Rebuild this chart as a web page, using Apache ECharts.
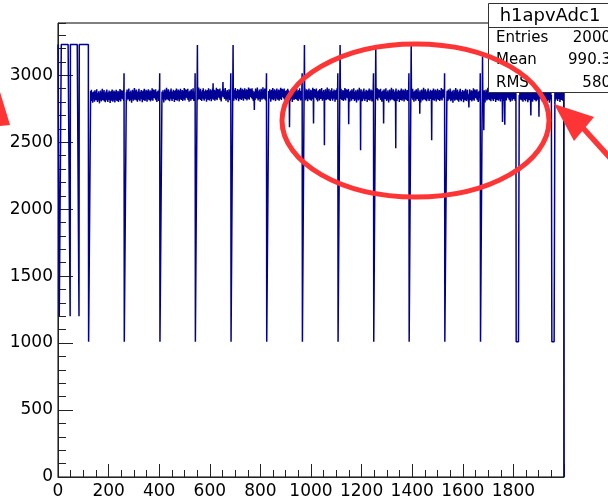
<!DOCTYPE html>
<html>
<head>
  <meta charset="utf-8" />
  <title>h1apvAdc1</title>
  <script src="https://cdn.jsdelivr.net/npm/echarts@6.0.0/dist/echarts.min.js"></script>
  <style>
    body { margin: 0; padding: 0; background: #fff; }
    #main { width: 608px; height: 501px; }
  </style>
</head>
<body>
  <div id="main"></div>
  <script>
    // ---- values ----
    var nBins = 2000;
    var headerTop = 3230;          // plateau before the first tick mark
    var headerLow = 1200;
    var headerGaps = [[5, 12], [48, 48], [83, 83]];   // bins that sit at headerLow
    var tickBins = [120, 261, 402, 542, 683, 824, 965, 1106, 1247, 1387, 1528, 1669, 1810, 1951];
    var tickWidth = [8, 8, 8, 8, 8, 8, 8, 8, 8, 8, 8, 8, 12, 12];
    var tickTop = [0, 3015, 3015, 3015, 3015, 3015, 3015, 3015, 3015, 3015, 3015, 3015, 0, 0];
    var tickLow = 1010;
    var tickSpike = [0, 0, 0, 3225, 3225, 0, 3225, 3225, 3225, 3225, 0, 3140, 0, 0];
    // baseline level after each tick mark
    var levels = [2843, 2848, 2850, 2852, 2855, 2853, 2852, 2850, 2850, 2850, 2848, 2850, 2848, 2850];
    // pedestal noise, ADC counts around the baseline
    var noise = [
      19, -13, 40, -24, 5, 48, -35, 13, -8, 29, -48, 16, 3, -19, 35, -6, 24, -40, 8, 45,
      -16, 0, 32, -29, 14, -10, 53, -22, 6, -43, 26, -3, 18, -32, 38, -14, 10, -53, 22, 2,
      -26, 43, -11, 30, -38, 5, 16, -21, 56, -8, -30, 13, 34, -18, 0, 46, -37, 21, -5, 27,
      -45, 11, -24, 37, 3, -13, 50, -32, 8, 19, -42, 29, -2, 14, -27, 42, -19, 6, 32, -50,
      24, -10, 2, 38, -34, 18, -14, 51, -22, 10, -40, 30, 0, -16, 43, -29, 13, 22, -46, 5,
      35, -11, -26, 48, -6, 16, -35, 27, 3, -21, 40, -5, -43, 19, 11, -30, 34, -13, 54, -24,
      8, -38, 26, -3, 45, -18, 14
    ];
    // single-bin spikes [bin, adc]
    var spikes = [
      [613, 2940], [652, 2950], [776, 2740], [915, 2612], [1010, 2640], [1053, 2477],
      [1149, 2634], [1196, 2440], [1287, 2640], [1335, 2455], [1430, 2712], [1477, 2515],
      [1624, 2760], [1683, 2590], [1757, 2650], [1766, 2630], [1869, 2700], [1901, 2690]
    ];
    var xTickLabels = ['0', '200', '400', '600', '800', '1000', '1200', '1400', '1600', '1800'];
    var statNames = ['Entries', 'Mean', 'RMS'];
    var statValues = ['2000', '990.3', '580'];

    // ---- build bin contents ----
    var vals = [];
    var seg = -1;
    for (var i = 0; i < nBins; i++) {
      while (seg + 1 < tickBins.length && i >= tickBins[seg + 1]) seg++;
      if (seg < 0) vals.push(headerTop);
      else vals.push(levels[seg] + noise[i % noise.length]);
    }
    headerGaps.forEach(function (g) {
      for (var b = g[0]; b <= g[1]; b++) vals[b] = headerLow;
    });
    tickBins.forEach(function (t, k) {
      if (tickTop[k]) vals[t] = tickTop[k];
      for (var j = 1; j <= tickWidth[k]; j++) vals[t + j] = tickLow;
      if (tickSpike[k]) vals[t + tickWidth[k] + 1] = tickSpike[k];
    });
    spikes.forEach(function (s) { vals[s[0]] = s[1]; });

    var data = vals.map(function (v, i) { return [i, v]; });
    data.push([nBins, vals[nBins - 1]]);
    data.push([nBins, 0]);

    var font = 'DejaVu Sans';
    var red = '#ff3535';
    var chart = echarts.init(document.getElementById('main'), null, { renderer: 'canvas' });

    var elements = [
      // stats box
      { type: 'rect', z: 100, shape: { x: 488.5, y: 3.5, width: 130, height: 89 },
        style: { fill: '#fff', stroke: '#333', lineWidth: 1 } },
      { type: 'line', z: 101, shape: { x1: 488.5, y1: 27.5, x2: 620, y2: 27.5 },
        style: { stroke: '#333', lineWidth: 1 } },
      { type: 'text', z: 102, x: 550, y: 16,
        style: { text: 'h1apvAdc1', font: '18px ' + font, fill: '#000',
          align: 'center', textAlign: 'center', verticalAlign: 'middle', textVerticalAlign: 'middle' } }
    ];
    statNames.forEach(function (name, k) {
      var y = 38 + k * 22.5;
      elements.push({ type: 'text', z: 102, x: 496, y: y,
        style: { text: name, font: '15px ' + font, fill: '#000',
          align: 'left', textAlign: 'left', verticalAlign: 'middle', textVerticalAlign: 'middle' } });
      elements.push({ type: 'text', z: 102, x: 611, y: y,
        style: { text: statValues[k], font: '15px ' + font, fill: '#000',
          align: 'right', textAlign: 'right', verticalAlign: 'middle', textVerticalAlign: 'middle' } });
    });
    // hand-drawn red annotations
    elements.push({ type: 'ellipse', z: 120, shape: { cx: 415.5, cy: 120.5, rx: 133.5, ry: 76.5 },
      style: { fill: null, stroke: red, lineWidth: 5 } });
    elements.push({ type: 'polygon', z: 120, shape: { points: [[554, 104], [594, 117], [574, 141]] },
      style: { fill: red } });
    elements.push({ type: 'line', z: 120, shape: { x1: 583, y1: 128, x2: 630, y2: 180 },
      style: { stroke: red, lineWidth: 5.5 } });
    elements.push({ type: 'polygon', z: 120, shape: { points: [[0, 92], [10, 125], [0, 126]] },
      style: { fill: red } });

    chart.setOption({
      animation: false,
      backgroundColor: '#fff',
      grid: { left: 58, top: 23, right: 44, bottom: 24, show: true,
        borderColor: '#000', borderWidth: 1, backgroundColor: 'transparent' },
      xAxis: {
        type: 'value', min: 0, max: nBins, interval: 200,
        axisLine: { show: true, lineStyle: { color: '#222', width: 1 } },
        axisTick: { show: true, inside: true, length: 13, lineStyle: { color: '#222' } },
        minorTick: { show: true, splitNumber: 4, length: 7, lineStyle: { color: '#222' } },
        splitLine: { show: false },
        axisLabel: { show: true, margin: 6, fontFamily: font, fontSize: 17, color: '#000',
          showMaxLabel: false,
          formatter: function (v) { return xTickLabels[v / 200] || ''; } }
      },
      yAxis: [{
        type: 'value', min: 0, max: 3390, interval: 500, position: 'left',
        axisLine: { show: true, lineStyle: { color: '#222', width: 1 } },
        axisTick: { show: true, inside: true, length: 15, lineStyle: { color: '#222' } },
        splitLine: { show: false },
        axisLabel: { show: true, margin: 5, fontFamily: font, fontSize: 17, color: '#000',
          showMaxLabel: false,
          formatter: function (v) { return String(v); } }
      }, {
        type: 'value', min: 0, max: 3390, interval: 100, position: 'left',
        axisLine: { show: false },
        axisTick: { show: true, inside: true, length: 8, lineStyle: { color: '#222' } },
        splitLine: { show: false },
        axisLabel: { show: false }
      }],
      series: [{
        type: 'line',
        step: 'end',
        data: data,
        showSymbol: false,
        symbol: 'none',
        lineStyle: { color: '#000096', width: 1.5 },
        silent: true
      }],
      graphic: { elements: elements }
    });
  </script>
</body>
</html>
